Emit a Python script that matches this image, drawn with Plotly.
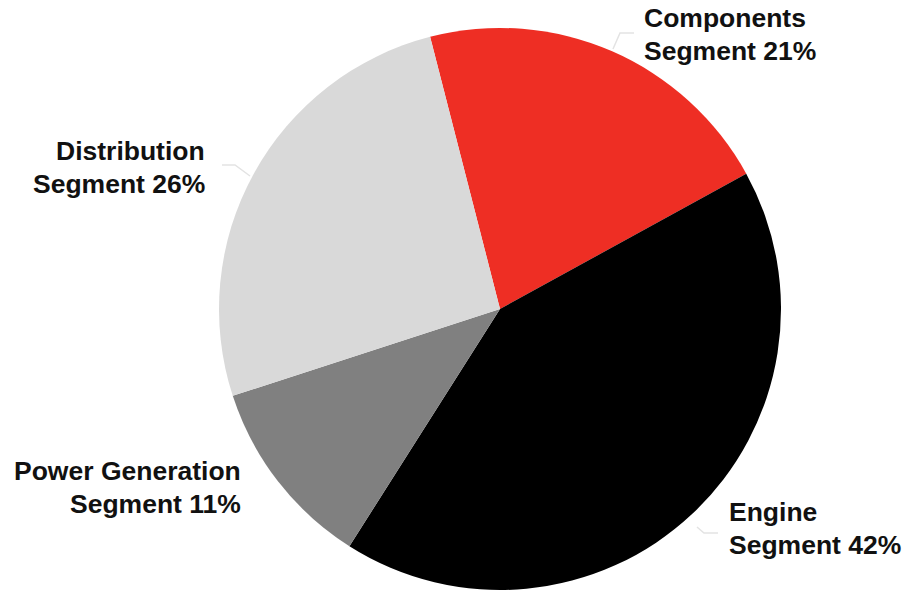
import plotly.graph_objects as go

# Segment shares (percent), drawn clockwise starting with Components
segments = ["Components Segment", "Engine Segment", "Power Generation Segment", "Distribution Segment"]
label_names = ["Components", "Engine", "Power Generation", "Distribution"]
shares = [21, 42, 11, 26]
colors = ["#EE2E24", "#000000", "#808080", "#D9D9D9"]

W, H = 915, 591

def px(x):
    return x / W

def py(y):
    return 1 - y / H

fig = go.Figure(
    go.Pie(
        labels=segments,
        values=shares,
        marker=dict(colors=colors, line=dict(width=0)),
        sort=False,
        direction="clockwise",
        rotation=-14.4,
        textinfo="none",
        hoverinfo="label+percent",
        showlegend=False,
        domain=dict(x=[px(217), px(783)], y=[py(590), py(28)]),
    )
)

# Two-line label blocks around the pie: (x anchor px, first-line centre px, alignment)
label_font = dict(family="Liberation Sans, Arial, sans-serif", size=26.5, color="#111111")
placements = [(642, 18, "left"), (727, 512, "left"), (243, 471, "right"), (207, 151, "right")]
line_gap = 33
for name, share, (x, y, anchor) in zip(label_names, shares, placements):
    for i, text in enumerate(["<b>%s</b>" % name, "<b>Segment %d%%</b>" % share]):
        fig.add_annotation(
            text=text, xref="paper", yref="paper", x=px(x), y=py(y + i * line_gap),
            xanchor=anchor, yanchor="middle", align=anchor, showarrow=False,
            font=label_font,
        )

# Thin leader lines from the slice edges to their labels
leaders = [
    [(613, 49), (620, 33), (634, 33)],
    [(250, 176), (235, 165), (222, 165)],
    [(697, 527), (704, 533), (718, 533)],
]
for pts in leaders:
    path = "M " + " L ".join("%f,%f" % (px(x), py(y)) for x, y in pts)
    fig.add_shape(type="path", xref="paper", yref="paper", path=path,
                  line=dict(color="#E3E3E3", width=1.5))

fig.update_layout(
    width=W, height=H,
    margin=dict(l=0, r=0, t=0, b=0),
    paper_bgcolor="white",
    plot_bgcolor="white",
)

fig.write_html("out.html")
